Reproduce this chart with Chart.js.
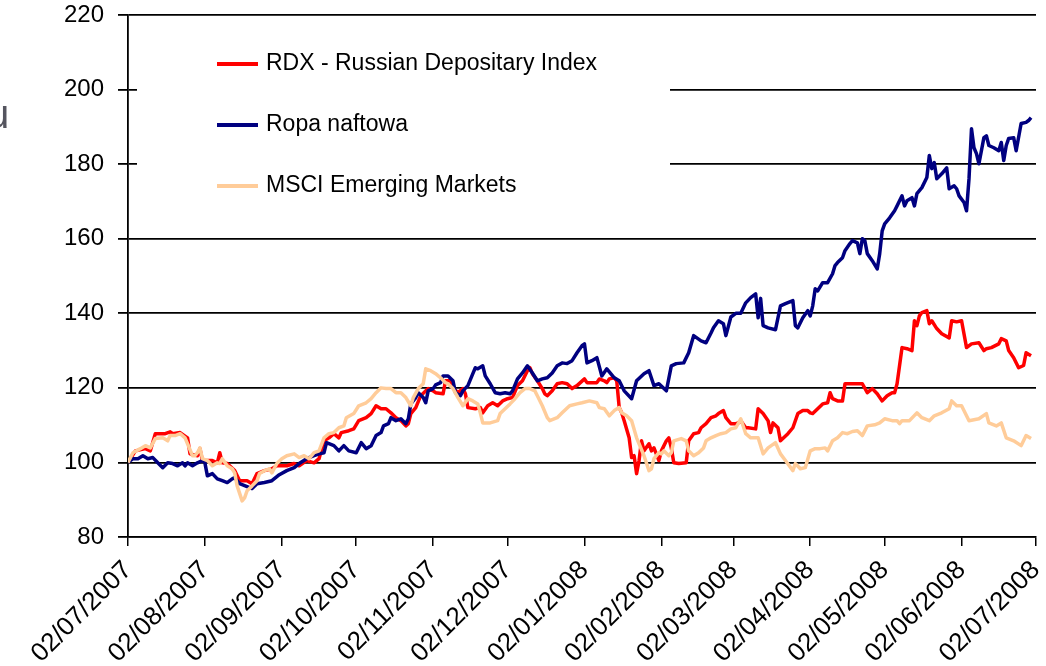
<!DOCTYPE html>
<html>
<head>
<meta charset="utf-8">
<script src="https://cdn.jsdelivr.net/npm/chart.js@4.4.1/dist/chart.umd.min.js"></script>
<style>
  html, body { margin: 0; padding: 0; background: #fff; overflow: hidden; }
  #wrap { position: relative; width: 1046px; height: 666px; overflow: hidden; }
  #c { position: absolute; left: 0; top: 0; }
  #ylab { position: absolute; left: -13px; top: 94px; font: 40px "Liberation Sans", Arial, sans-serif; line-height: 40px; color: #55555f; }
</style>
</head>
<body>
<div id="wrap">
  <canvas id="c" width="1046" height="666"></canvas>
  <div id="ylab">u</div>
</div>
<script>
// ---- Data (days since 02/07/2007, index values) ----
const monthTickDays = [0, 31, 62, 92, 123, 153, 184, 215, 244, 275, 305, 336, 366];
const monthLabels = ['02/07/2007', '02/08/2007', '02/09/2007', '02/10/2007', '02/11/2007', '02/12/2007',
  '02/01/2008', '02/02/2008', '02/03/2008', '02/04/2008', '02/05/2008', '02/06/2008', '02/07/2008'];
const yTicks = [80, 100, 120, 140, 160, 180, 200, 220];

const seriesNames = ['RDX - Russian Depositary Index', 'Ropa naftowa', 'MSCI Emerging Markets'];

const rdxDays = [0,3,7,9,11,15,17,18,21,24,25,28,29,30,34,36,37,38,40,43,45,48,50,52,55,58,60,64,67,69,72,75,77,79,81,83,85,86,89,91,93,96,98,100,102,104,106,108,110,112,113,114,116,118,121,123,124,127,128,130,131,133,135,136,137,140,142,143,145,147,149,151,153,155,157,159,161,162,163,165,167,168,169,171,173,175,177,179,181,184,185,187,189,190,192,193,194,196,197,198,199,200,202,203,204,205,206,207,208,210,211,212,214,215,217,218,219,220,222,225,226,228,230,231,233,234,235,237,238,240,241,243,245,246,247,249,250,253,254,256,258,259,260,262,263,266,268,270,272,274,275,276,278,280,282,283,284,286,288,289,292,295,296,298,300,302,304,306,308,309,310,312,314,316,317,318,319,320,322,323,324,326,328,331,332,334,336,338,340,343,345,346,348,351,352,354,355,357,359,361,362,364];
const rdxValues = [100,103.1,103.7,103.1,107.7,107.7,108.2,107.7,108,106.6,102.3,101.8,103.7,100.5,100.5,99.9,102.6,99.9,99.7,97.8,95.1,95.1,94.3,97,97.8,98.3,99.1,99.1,99.7,99.1,100.5,99.9,101,105.8,106.6,107.7,106.6,108,108.5,109,111.2,112,113.1,115.2,114.4,114.4,113.3,112,111.2,109.8,110.4,113.1,114.7,117.9,119.8,119.2,118.7,118.4,121.9,121.9,120,118.7,119.8,118.4,114.7,114.4,114.7,113.3,115.2,116,115.2,116.5,117.1,117.4,120.6,121.9,124.6,125.4,123.8,121.9,119.8,118.4,117.9,119.2,121.1,121.4,121.1,119.8,120.6,122.4,121.4,121.4,121.4,122.4,121.9,121.4,122.4,122.7,121.9,114.7,113.3,111.2,106.6,101.3,101.8,97,100.5,105.8,103.1,105,103.1,103.9,100.5,103.1,105.8,106.6,103.9,99.9,99.7,99.9,105.8,107.7,108,109.3,110.4,111.2,112,112.5,113.1,113.9,112,110.4,110.4,110.6,111.2,109.3,109.3,109,114.4,113.1,111.2,108,110.6,109.3,105.8,107.7,109.3,113.1,113.9,113.9,113.3,113.1,114.4,115.7,116,118.7,117.1,116.5,116.5,121.1,121.1,121.1,121.1,118.7,119.8,118.4,116.5,117.9,118.7,118.7,121.1,130.8,130.5,130,138,136.7,139.3,140.2,140.7,137.2,138,135.9,134.5,133.4,138,137.7,138,130.8,131.8,132.1,130,130.5,130.8,131.8,133.2,132.6,130,128.1,125.4,126,129.4,128.6];

const oilDays = [0,2,4,6,8,10,12,14,16,18,20,22,23,24,26,28,30,31,32,34,36,38,40,42,43,45,47,50,52,55,58,61,64,67,69,72,75,77,79,80,83,85,87,89,92,94,96,98,100,102,103,105,106,108,110,112,113,114,116,117,119,120,121,123,124,126,127,129,131,132,134,135,137,139,140,141,143,144,146,148,150,152,154,155,157,159,161,163,165,167,169,171,173,175,177,179,181,183,184,185,187,189,191,193,196,198,200,203,205,208,210,212,214,217,219,221,224,226,228,231,233,235,236,238,240,241,243,245,247,249,251,253,254,255,256,258,261,263,265,268,269,270,272,274,275,276,277,278,280,282,284,285,286,288,289,291,292,294,295,296,297,298,300,302,303,304,305,307,309,310,312,313,314,316,317,318,320,322,323,324,325,326,328,330,331,333,334,335,337,338,339,340,341,342,343,345,346,347,349,351,352,353,354,355,357,358,360,362,363,364];
const oilValues = [100,101,101,101.8,101,101.3,99.9,98.6,99.9,99.7,99.1,99.9,99.1,99.9,99.1,99.9,100.5,99.9,96.4,97,95.6,95.1,94.6,95.6,95.9,94.3,93.8,93,94.3,94.6,95.1,96.7,97.8,98.6,99.7,101,101.8,102.3,102.6,105.3,104.5,103.1,104.5,103.1,102.6,105.3,103.7,104.5,107.2,108,109.8,110.4,112,111.2,111.7,110.4,111.7,115.7,117.4,118.7,117.4,116,119.2,119.8,120.8,121.4,123.2,123.2,121.9,118.7,117.9,119.2,120.6,123.8,125.4,125.1,125.9,123.2,121.1,118.7,118.4,118.7,118.4,119.2,122.4,124,125.9,124,121.9,122.4,122.7,124,125.9,126.7,126.5,127.3,129.4,131.3,131.8,126.7,127.3,128.1,123.2,125.1,122.7,121.9,119.2,117.1,121.9,123.8,124.6,120.6,121.1,119.2,125.9,126.5,126.7,129.4,134,132.6,132.1,134.7,136.1,138,137.2,134,139,140,140,142.8,144.2,145.2,138.8,144,136.7,136.1,135.6,142,142.6,143.4,136.7,136.1,138.8,140.7,139.3,142,146.6,146,148.2,148.2,150.6,152.8,153.6,154.9,156.8,158.7,159.5,158.9,156,160,159.5,156,154.1,151.9,156,162.1,164,165.6,167.5,168.8,171.5,168.8,170.2,171,168.8,172.1,173.7,176.4,182.3,178.8,180.4,176.1,177.4,179,173.4,174.2,173.4,171.5,169.7,167.5,176.1,189.5,184.4,182.8,180.1,187.1,187.6,185,184.4,183.6,185.8,181,185,186.9,187.1,183.6,190.9,191.2,191.7,192.5];

const msciDays = [0,2,5,7,9,11,14,16,17,19,21,23,24,26,27,28,29,30,32,34,36,37,38,40,42,43,44,46,47,48,50,52,53,55,57,58,60,62,64,67,69,71,73,75,77,79,81,83,85,87,88,91,93,96,98,100,102,104,106,108,110,112,114,115,117,119,120,122,124,126,128,129,131,133,135,137,139,141,142,143,146,149,150,152,154,156,158,160,162,164,165,167,169,170,173,175,178,181,183,186,189,190,192,194,196,198,199,201,203,205,206,208,210,211,212,214,215,216,218,219,220,223,225,226,228,230,232,233,235,237,239,241,243,245,247,249,251,254,256,258,261,263,265,268,269,271,273,275,277,279,281,282,284,286,288,290,292,294,296,298,301,303,305,308,310,311,312,315,318,320,323,325,328,331,332,334,336,339,343,346,347,350,352,354,357,360,362,364];
const msciValues = [100,102.6,103.7,104.5,103.9,106.4,106.6,105.8,107.2,107.2,107.7,106.6,105,101.8,101.8,102.6,103.9,101,100.5,99.1,99.9,99.7,101,99.1,98.3,97.2,93.7,89.7,90.5,92.4,93.7,95.1,97,97.8,98.3,97.2,99.7,101,101.8,102.3,101.3,101.8,101,102.6,103.1,106.6,107.7,108,109.3,109.8,112,113.1,115.2,116,117.1,118.7,120,119.8,119.8,118.7,118.7,117.4,115.2,117.4,119.8,121.1,125.1,124.6,123.8,122.7,121.4,121.1,119.8,117.4,115.2,117.1,116.5,115.7,113.3,110.6,110.6,111.2,113.1,114.4,115.7,117.1,118.7,119.8,119.8,119.2,117.9,115.2,112,111.2,112,113.3,115.2,115.7,116,116.5,116,114.7,114.4,112.5,113.9,114.7,113.3,112.5,111.2,106.6,105,101.8,97.8,98.3,101,102.6,102.3,103.1,101.8,102.6,105.8,106.4,105.8,103.1,101.8,102.6,103.9,105.8,106.6,107.2,107.7,108,109,109.3,111.7,107.7,106.6,106.6,102.3,103.9,105.3,102.3,100.5,97.8,99.7,98.3,98.6,103.1,103.7,103.7,103.9,103.1,105.8,106.6,108,107.7,108.3,108.5,107.2,109.8,110.1,110.6,111.7,111.2,111.2,110.4,111.2,111.2,113.3,112,111.2,112.5,113.3,114.4,116.5,115.2,115.2,111.2,111.7,113.1,110.6,109.8,110.6,106.6,105.8,104.5,107.2,106.4];

const seriesColors = ['#ff0000', '#000080', '#ffcc99'];

// ---- Build datasets ----
function pts(days, vals) { return days.map((d, i) => ({ x: d, y: vals[i] })); }
const seriesData = [pts(rdxDays, rdxValues), pts(oilDays, oilValues), pts(msciDays, msciValues)];
const drawOrder = [2, 1, 0];

const datasets = seriesNames.map((name, i) => ({
  label: name,
  data: seriesData[i],
  borderColor: seriesColors[i],
  backgroundColor: seriesColors[i],
  borderWidth: 3.5,
  borderJoinStyle: 'round',
  pointRadius: 0,
  tension: 0,
  fill: false,
  order: drawOrder[i]
}));

const FONT = '"Liberation Sans", Arial, sans-serif';

const insideLegend = {
  id: 'insideLegend',
  beforeDatasetsDraw(chart) {
    const { ctx, chartArea } = chart;
    ctx.save();
    ctx.fillStyle = '#ffffff';
    ctx.fillRect(chartArea.left + 9, chartArea.top + 2, 542 - 9, 196);
    ctx.font = '23px ' + FONT;
    ctx.textBaseline = 'middle';
    ctx.textAlign = 'left';
    chart.data.datasets.forEach((ds, i) => {
      const y = chartArea.top + 49 + i * 61;
      ctx.strokeStyle = ds.borderColor;
      ctx.lineWidth = 4;
      ctx.beginPath();
      ctx.moveTo(chartArea.left + 89, y);
      ctx.lineTo(chartArea.left + 130, y);
      ctx.stroke();
      ctx.fillStyle = '#000000';
      ctx.fillText(ds.label, chartArea.left + 138, y);
    });
    ctx.restore();
  }
};

new Chart(document.getElementById('c'), {
  type: 'line',
  data: { datasets },
  options: {
    responsive: false,
    animation: false,
    devicePixelRatio: 1,
    layout: { padding: { top: 15, right: 10, left: 0, bottom: 0 } },
    plugins: { legend: { display: false }, tooltip: { enabled: false } },
    scales: {
      x: {
        type: 'linear',
        min: monthTickDays[0],
        max: monthTickDays[monthTickDays.length - 1],
        afterBuildTicks: (scale) => { scale.ticks = monthTickDays.map(v => ({ value: v })); },
        afterFit: (scale) => {
          scale.height = 129;
          scale.paddingLeft = 0; scale.paddingRight = 0; scale.paddingTop = 0; scale.paddingBottom = 0;
        },
        ticks: {
          autoSkip: false,
          minRotation: 45,
          maxRotation: 45,
          padding: 9,
          color: '#000',
          font: { family: FONT, size: 26 },
          callback: (value, index) => monthLabels[index]
        },
        grid: { drawOnChartArea: false, drawTicks: true, tickLength: 9, color: '#000', lineWidth: 1.5 },
        border: { display: true, color: '#000', width: 1.5 }
      },
      y: {
        min: yTicks[0],
        max: yTicks[yTicks.length - 1],
        afterBuildTicks: (scale) => { scale.ticks = yTicks.map(v => ({ value: v })); },
        afterFit: (scale) => {
          scale.width = 128;
          scale.paddingLeft = 0; scale.paddingRight = 0; scale.paddingTop = 0; scale.paddingBottom = 0;
        },
        ticks: {
          padding: 14,
          color: '#000',
          font: { family: FONT, size: 24 }
        },
        grid: { color: '#000', lineWidth: 1.8, tickLength: 10 },
        border: { display: true, color: '#000', width: 1.8 }
      }
    }
  },
  plugins: [insideLegend]
});
</script>
</body>
</html>
